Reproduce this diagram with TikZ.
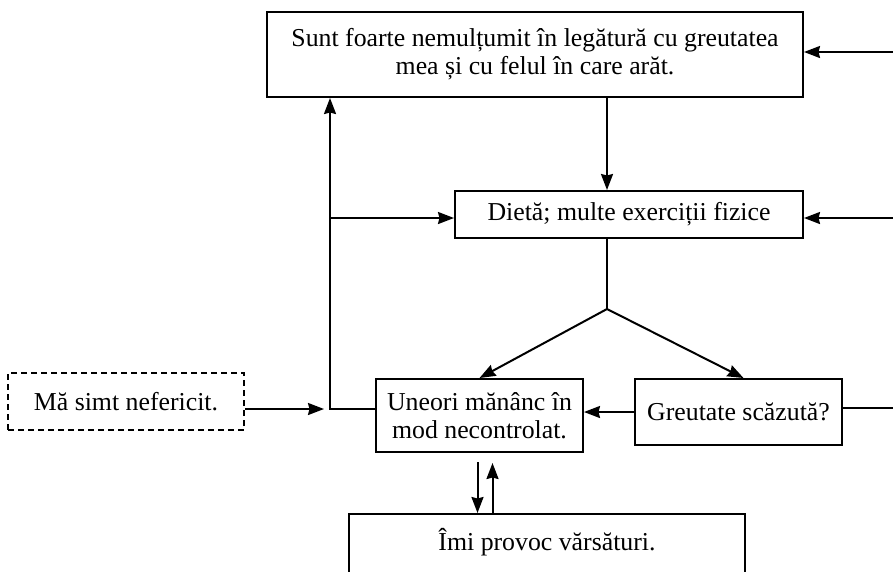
\documentclass[tikz,border=0pt]{standalone}
\usepackage{fontspec}
\setmainfont{Liberation Serif}
\usetikzlibrary{arrows.meta}

\begin{document}
\begin{tikzpicture}[x=1pt, y=-1pt, >={Stealth[length=16pt,width=12pt,inset=1.5pt]}, line width=2pt,
    box/.style={draw, inner sep=0pt, align=center, font=\fontsize{25.8}{28}\selectfont},
    txt/.style={inner sep=0pt, font=\fontsize{25.8}{28}\selectfont}]
\useasboundingbox (0,0) rectangle (893,571);
\clip (0,0) rectangle (893,571);

\node[box, minimum width=536pt, minimum height=85pt] (top) at (535,54.5) {Sunt foarte nemulțumit în legătură cu greutatea\\mea și cu felul în care arăt.};
\node[box, minimum width=348pt, minimum height=47pt] (diet) at (629,214.5) {Dietă; multe exerciții fizice};
\node[box, minimum width=207pt, minimum height=73pt] (eat) at (479.5,415.5) {Uneori mănânc în\\mod necontrolat.};
\node[box, minimum width=207pt, minimum height=66pt] (weight) at (738.5,412) {Greutate scăzută?};
\node[box, dash pattern=on 6pt off 4pt, minimum width=236pt, minimum height=57pt] (sad) at (126,401.5) {Mă simt nefericit.};
\node[box, minimum width=396pt, minimum height=100pt, anchor=north] (vomit) at (547,513) {};
\node[txt] (vomittext) at (547,542) {Îmi provoc vărsături.};

\coordinate (r1) at (893,52);
\coordinate (r2) at (893,218);
\coordinate (r3) at (893,408);
\coordinate (split) at (607,309);
\coordinate (join) at (330,409);

\draw[->] (r1) -- (r1 -| top.east);
\draw[->] (top.south -| split) -- (diet.north -| split);
\draw[->] (r2) -- (r2 -| diet.east);
\draw (diet.south -| split) -- (split);
\draw[->] (split) -- (eat.north);
\draw[->] (split) -- ([xshift=5pt]weight.north);
\draw[->] (weight.west) -- (weight.west -| eat.east);
\draw (weight.east |- r3) -- (r3);
\draw[->, shorten >=6pt] (sad.east |- join) -- (join);
\draw[->] (eat.west |- join) -- (join) -- (join |- top.south);
\draw[->] (join |- r2) -- (r2 -| diet.west);
\draw[->, shorten <=9pt] ([xshift=-2pt]eat.south) -- ([xshift=-2pt]eat.south |- vomit.north);
\draw[->, shorten >=10pt] ([xshift=13pt]eat.south |- vomit.north) -- ([xshift=13pt]eat.south);

\end{tikzpicture}
\end{document}
